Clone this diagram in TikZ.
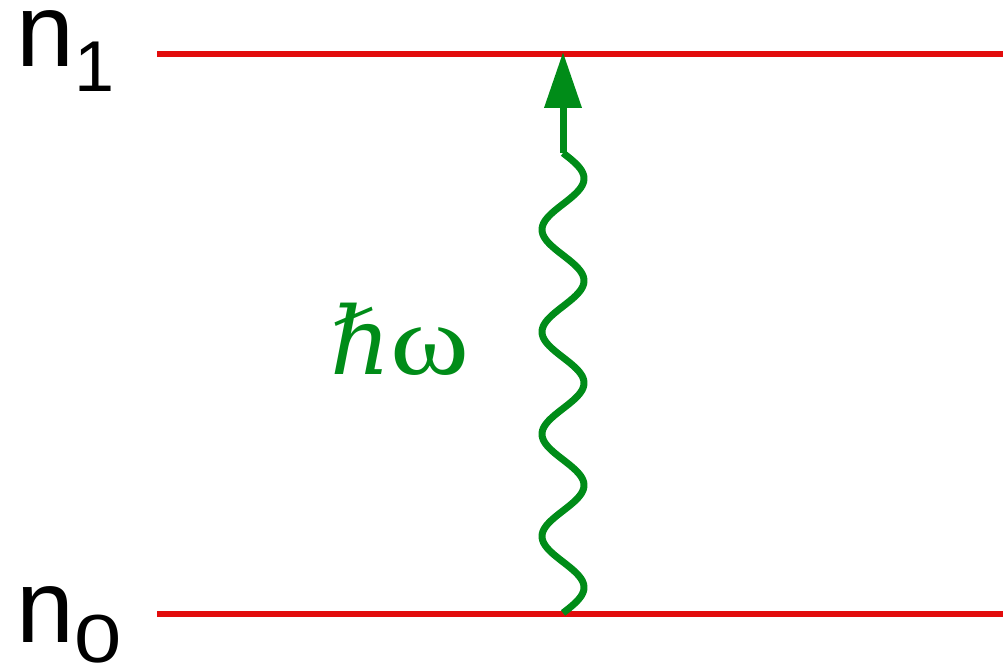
\documentclass[tikz,border=0pt]{standalone}
\usepackage{fontspec}
\setmainfont{Liberation Sans}
\newfontfamily\hbarfont{DejaVu Serif}
\newfontfamily\omegafont{Liberation Serif}
\usetikzlibrary{arrows.meta}
\definecolor{lvred}{RGB}{226,12,12}
\definecolor{phgreen}{RGB}{0,140,24}
\tikzset{
  level/.style={draw=lvred, line width=6pt},
  photon/.style={draw=phgreen, line width=7pt, line join=round},
  lbl/.style={inner sep=0pt, anchor=base west, text=black},
}
\begin{document}
\begin{tikzpicture}[x=1pt,y=1pt]
\useasboundingbox (0,0) rectangle (1003,669);
% levels
\coordinate (u0) at (157,615);
\coordinate (u1) at (1003,615);
\coordinate (l0) at (157,55);
\coordinate (l1) at (1003,55);
\draw[level] (u0) -- (u1);
\draw[level] (l0) -- (l1);
% labels
\node[lbl] (n1) at (16,602) {\fontsize{104}{104}\selectfont n\raisebox{-25pt}{\fontsize{72}{72}\selectfont 1}};
\node[lbl] (n0) at (16,27) {\fontsize{104}{104}\selectfont n\raisebox{-20pt}{\fontsize{68}{68}\selectfont\scalebox{1.25}[1]{0}}};
% photon
\coordinate (wbot) at (563,56);
\coordinate (wtop) at (563,516);
\coordinate (tip) at (563,617);
\draw[photon, smooth, samples=240, variable=\t, domain=0:460]
  plot ({563+21*sin(\t/460*9*180)}, {56+\t});
\draw[photon, -{Triangle[length=56pt,width=36pt]}] (wtop) -- (tip);
\node[inner sep=0pt, anchor=base west, text=phgreen] (hw) at (330,294)
  {{\fontsize{94}{94}\hbarfont\itshape ℏ}\scalebox{1.2}[1]{\fontsize{100}{100}\omegafont ω}};
\end{tikzpicture}
\end{document}
